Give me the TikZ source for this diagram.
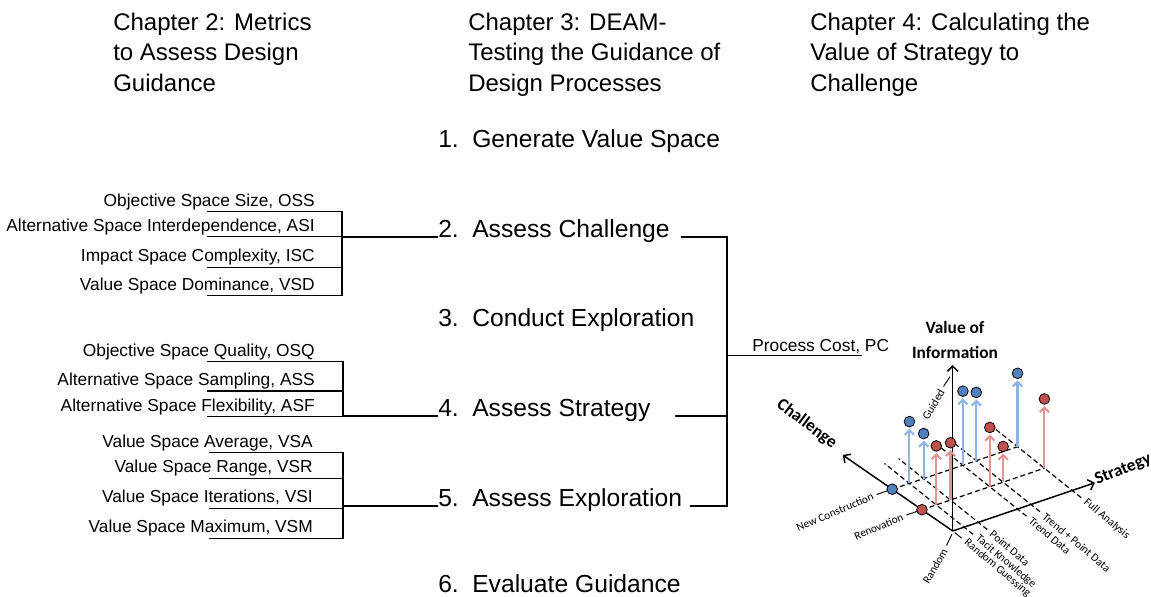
\documentclass[tikz,border=0pt]{standalone}
\usepackage{fontspec}
\setmainfont{Liberation Sans}
\newfontfamily\chartfont{Carlito}
\usetikzlibrary{arrows.meta}
\definecolor{dotblue}{RGB}{79,129,189}
\definecolor{dotred}{RGB}{192,80,77}
\definecolor{stemblue}{RGB}{141,180,226}
\definecolor{stemred}{RGB}{224,150,148}
\tikzset{
    heading/.style={font=\fontsize{18}{22.9}\selectfont,align=left,anchor=base west,inner sep=0pt},
    stepnode/.style={font=\fontsize{18.5}{22}\selectfont,anchor=base west,inner sep=0pt},
    metric/.style={font=\fontsize{13}{15}\selectfont,anchor=base east,inner sep=0pt},
    link/.style={line width=1pt},
    trunk/.style={line width=2pt},
    axis/.style={line width=1.1pt,-{Straight Barb[length=4pt,width=8pt]}},
    grid/.style={line width=0.9pt,dash pattern=on 3.75pt off 2.25pt},
    tick/.style={line width=0.7pt},
    stem/.style={line width=1.6pt,-{Straight Barb[length=3.5pt,width=7pt]},shorten >=1pt},
    dot/.style={circle,draw=black,line width=0.6pt,minimum size=8pt,inner sep=0pt},
    axlabel/.style={font=\chartfont\bfseries\fontsize{13}{18.5}\selectfont,inner sep=0pt},
    ticklabel/.style={font=\chartfont\fontsize{8.5}{10}\selectfont,inner sep=1pt}
}

\begin{document}
\begin{tikzpicture}[x=0.75pt,y=-0.75pt]
    \useasboundingbox (0,0) rectangle (1151,596);

    % column titles (anchored on the last line)
    \node [heading] (ch2) at (113,91.5) {Chapter 2: Metrics\\to Assess Design\\Guidance};
    \node [heading] (ch3) at (468,91.5) {Chapter 3: DEAM-\\Testing the Guidance of\\Design Processes};
    \node [heading] (ch4) at (810,91.5) {Chapter 4: Calculating the\\Value of Strategy to\\Challenge};

    % the six steps
    \foreach \y/\txt [count=\i] in {147/Generate Value Space,237/Assess Challenge,326.5/Conduct Exploration,416/Assess Strategy,506/Assess Exploration,592/Evaluate Guidance}
        \node [stepnode] (s\i) at (438,\y) {\makebox[25.5pt][l]{\i.}\txt};

    % metrics feeding step 2
    \coordinate (j2) at (342,237);
    \foreach \y/\txt [count=\i] in {211.7/{Objective Space Size, OSS},236.7/{Alternative Space Interdependence, ASI},267.3/{Impact Space Complexity, ISC},295.7/{Value Space Dominance, VSD}} {
        \node [metric] (ma\i) at (315,\y-5.5) {\txt};
        \draw [link] ([shift={(-108,5.5)}]ma\i.base east) -| (j2);
    }
    \draw [trunk] (j2) -- (s2.base west);

    % metrics feeding step 4
    \coordinate (j4) at (343,416);
    \foreach \y/\txt [count=\i] in {361.7/{Objective Space Quality, OSQ},391/{Alternative Space Sampling, ASS},416.7/{Alternative Space Flexibility, ASF}} {
        \node [metric] (mb\i) at (315,\y-5.5) {\txt};
        \draw [link] ([shift={(-108,5.5)}]mb\i.base east) -| (j4);
    }
    \draw [trunk] (j4) -- (s4.base west);

    % metrics feeding step 5
    \coordinate (j5) at (343,506);
    \foreach \y/\txt [count=\i] in {452.7/{Value Space Average, VSA},478.3/{Value Space Range, VSR},508.3/{Value Space Iterations, VSI},538.3/{Value Space Maximum, VSM}} {
        \node [metric] (mc\i) at (313,\y-5.5) {\txt};
        \draw [link] ([shift={(-104,5.5)}]mc\i.base east) -| (j5);
    }
    \draw [trunk] (j5) -- (s5.base west);

    % steps 2, 4 and 5 into process cost
    \coordinate (rj) at (727,237);
    \draw [link] ([xshift=8pt]s2.base east) -| (s5.base east -| rj) -- ([xshift=6pt]s5.base east);
    \draw [link] ([xshift=18pt]s4.base east) -- (s4.base east -| rj);
    \node [metric,anchor=base west] (pc) at (752,351.5) {Process Cost, PC};
    \coordinate (rpc) at (727,355.7);
    \draw [link] (rpc) -- ++(135,0);

    % value of information chart
    \node [axlabel,align=center] (voi) at (955,340) {Value of\\Information};
    \node [axlabel,rotate=-37] (chal) at (806.7,424) {Challenge};
    \node [axlabel,rotate=22,anchor=base west] (strat) at (1097,485) {Strategy};
    \draw [tick] (950,376.7) -- (943.5,386.5);
    \node [ticklabel,rotate=60,anchor=east] (guided) at (942.5,388.5) {Guided};
    \draw [tick] (952,534) -- (946.5,545.5);
    \node [ticklabel,rotate=60,anchor=east] (random) at (945.5,548) {Random};

    \begin{scope}[shift={(952.7,531)},x={(106.7pt,36.2pt)},y={(-82.5pt,57pt)},z={(0pt,124.5pt)}]
        \foreach \s in {0.08,0.18,0.456,0.55,0.84}
            \draw [grid] ({\s-0.0067},-0.09,0) -- ({\s+0.059},0.8,0);
        \draw [grid] (0,0.55,0) -- (0.881,0.55,0);
        \draw [grid] (0,0.28,0) -- (0.861,0.28,0);
        \draw [tick] (-0.0015,-0.02,0) -- (-0.0067,-0.09,0);
        \draw [tick] (-0.036,0.55,0) -- (-0.11,0.55,0);
        \draw [tick] (-0.036,0.28,0) -- (-0.11,0.28,0);

        \coordinate (o) at (0,0,0);
        \draw [axis] (o) -- (1,0,0);
        \draw [axis] (o) -- (0,1,0);
        \draw [axis] (o) -- (0,0,1);

        \node [ticklabel,rotate=23,anchor=east] (newcon) at (-0.125,0.55,0) {New Construction};
        \node [ticklabel,rotate=23,anchor=east] (renov) at (-0.125,0.28,0) {Renovation};
        \foreach \s/\txt [count=\i] in {0/Random Guessing,0.08/Tacit Knowledge,0.18/Point Data,0.456/Trend Data,0.55/Trend + Point Data,0.84/Full Analysis}
            \node [ticklabel,rotate=-40,anchor=west] (lvl\i) at ({\s-0.009},-0.12,0) {\txt};

        \node [dot,fill=dotblue] (newdot) at (0,0.55,0) {};
        \node [dot,fill=dotred] (rendot) at (0,0.28,0) {};

        \foreach \s/\v [count=\i] in {0.121/0.372,0.221/0.271,0.497/0.446,0.591/0.411,0.881/0.442} {
            \node [dot,fill=dotblue] (blue\i) at (\s,0.55,\v) {};
            \draw [stem,stemblue] (\s,0.55,0) -- (blue\i);
        }
        \foreach \s/\v [count=\i] in {0.101/0.355,0.201/0.345,0.477/0.357,0.571/0.215,0.861/0.417} {
            \node [dot,fill=dotred] (red\i) at (\s,0.28,\v) {};
            \draw [stem,stemred] (\s,0.28,0) -- (red\i);
        }
    \end{scope}
\end{tikzpicture}
\end{document}
